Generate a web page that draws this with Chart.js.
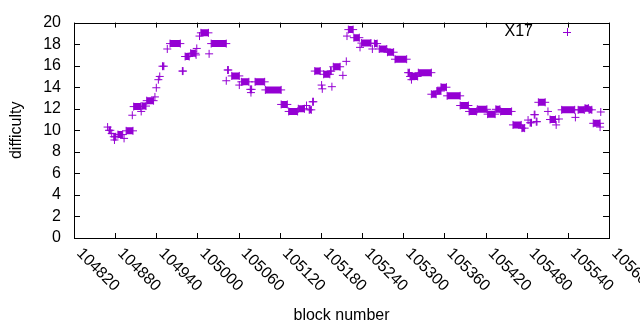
<!DOCTYPE html>
<html>
<head>
<meta charset="utf-8">
<script src="https://cdn.jsdelivr.net/npm/chart.js@4"></script>
<style>
html, body { margin: 0; padding: 0; background: #fff; }
</style>
</head>
<body>
<canvas id="canvas" width="640" height="330"></canvas>
<script>
const seriesName = 'X17';
const xTicks = [104820, 104880, 104940, 105000, 105060, 105120, 105180, 105240, 105300, 105360, 105420, 105480, 105540, 105600];
const yTicks = [0, 2, 4, 6, 8, 10, 12, 14, 16, 18, 20];

// runs of blocks sharing one difficulty (start block, end block, value)
const runStart = [104869, 104871, 104875, 104878, 104879, 104884, 104893, 104896, 104905, 104907, 104918, 104919, 104926, 104938, 104940, 104943, 104945, 104949, 104956, 104960,
  104978, 104982, 104990, 104998, 104999, 105003, 105005, 105017, 105020, 105042, 105044, 105050, 105061, 105064, 105077, 105078, 105084, 105099, 105122, 105133,
  105147, 105159, 105163, 105168, 105171, 105181, 105182, 105184, 105194, 105196, 105198, 105212, 105217, 105218, 105220, 105228, 105237, 105239, 105255, 105258,
  105265, 105277, 105288, 105307, 105310, 105312, 105322, 105341, 105349, 105355, 105364, 105383, 105396, 105408, 105423, 105435, 105442, 105460, 105473, 105482,
  105485, 105491, 105494, 105497, 105511, 105514, 105523, 105527, 105531, 105551, 105555, 105565, 105571, 105577, 105587, 105588];
const runEnd = [104869, 104873, 104875, 104881, 104879, 104891, 104893, 104906, 104905, 104917, 104918, 104925, 104936, 104938, 104940, 104943, 104945, 104951, 104956, 104975,
  104979, 104988, 104997, 104998, 104999, 105003, 105016, 105017, 105042, 105042, 105045, 105061, 105061, 105075, 105079, 105078, 105098, 105122, 105131, 105146,
  105156, 105159, 105166, 105169, 105179, 105181, 105182, 105193, 105195, 105196, 105208, 105212, 105217, 105218, 105227, 105236, 105237, 105253, 105255, 105262,
  105276, 105286, 105305, 105309, 105321, 105312, 105341, 105348, 105355, 105363, 105383, 105395, 105407, 105422, 105434, 105441, 105458, 105472, 105477, 105482,
  105487, 105492, 105495, 105507, 105511, 105522, 105523, 105527, 105550, 105551, 105564, 105570, 105575, 105587, 105587, 105588];
const runValue = [10.3, 10.0, 9.7, 9.4, 9.1, 9.6, 9.25, 9.95, 11.4, 12.2, 11.75, 12.25, 12.75, 13.1, 13.95, 14.7, 15.0, 15.95, 17.55, 18.05,
  15.5, 16.85, 17.15, 17.0, 17.6, 18.75, 19.05, 17.1, 18.05, 14.6, 15.6, 15.05, 14.2, 14.5, 13.8, 13.5, 14.5, 13.75, 12.4, 11.75,
  12.0, 12.3, 11.9, 12.65, 15.5, 14.2, 13.85, 15.2, 15.5, 14.05, 15.9, 15.1, 16.4, 18.75, 19.35, 18.6, 17.7, 18.1, 17.55, 18.05,
  17.55, 17.25, 16.6, 15.35, 15.0, 14.7, 15.35, 13.35, 13.65, 14.0, 13.2, 12.3, 11.75, 11.95, 11.5, 11.95, 11.75, 10.5, 10.2, 10.95,
  10.7, 11.45, 10.8, 12.6, 11.75, 11.0, 10.5, 11.05, 11.9, 11.2, 11.9, 12.05, 11.9, 10.65, 10.3, 11.7];

const purple = '#9400d3';
const fontFamily = '"Liberation Sans", Arial, sans-serif';
const fontSize = 16;

const points = [];
for (let i = 0; i < runStart.length; i++) {
  points.push({ x: runStart[i], y: runValue[i] });
  if (runEnd[i] !== runStart[i]) points.push({ x: runEnd[i], y: runValue[i] });
  points.push({ x: runEnd[i], y: null });
}

const gnuplotFrame = {
  id: 'gnuplotFrame',
  afterDraw(chart) {
    const ctx = chart.ctx;
    const a = chart.chartArea;
    const xs = chart.scales.x;
    const ys = chart.scales.y;
    ctx.save();
    ctx.strokeStyle = '#000';
    ctx.lineWidth = 1;
    ctx.strokeRect(Math.round(a.left) + 0.5, Math.round(a.top) + 0.5, Math.round(a.right - a.left), Math.round(a.bottom - a.top));
    ctx.beginPath();
    xTicks.forEach(v => {
      const px = Math.round(xs.getPixelForValue(v)) + 0.5;
      ctx.moveTo(px, a.bottom); ctx.lineTo(px, a.bottom - 5);
      ctx.moveTo(px, a.top); ctx.lineTo(px, a.top + 5);
    });
    yTicks.forEach(v => {
      const py = Math.round(ys.getPixelForValue(v)) + 0.5;
      ctx.moveTo(a.left, py); ctx.lineTo(a.left + 6, py);
      ctx.moveTo(a.right, py); ctx.lineTo(a.right - 6, py);
    });
    ctx.stroke();

    // rotated x tick labels
    ctx.fillStyle = '#000';
    ctx.font = fontSize + 'px ' + fontFamily;
    ctx.textAlign = 'left';
    ctx.textBaseline = 'middle';
    xTicks.forEach(v => {
      const px = xs.getPixelForValue(v);
      ctx.save();
      ctx.translate(px + 5, a.bottom + 13);
      ctx.rotate(Math.PI / 4);
      ctx.fillText(String(v), 0, 0);
      ctx.restore();
    });

    // key
    ctx.textAlign = 'right';
    ctx.fillText(chart.data.datasets[0].label, 533, 32);
    ctx.strokeStyle = purple;
    ctx.beginPath();
    ctx.moveTo(563, 32.5); ctx.lineTo(571, 32.5);
    ctx.moveTo(567.5, 28); ctx.lineTo(567.5, 36);
    ctx.stroke();
    ctx.restore();
  }
};

const ctx = document.getElementById('canvas').getContext('2d');
const myChart = new Chart(ctx, {
  type: 'line',
  data: {
    datasets: [{
      label: seriesName,
      data: points,
      borderColor: purple,
      backgroundColor: purple,
      borderWidth: 7,
      borderCapStyle: 'butt',
      spanGaps: false,
      fill: false,
      tension: 0,
      pointStyle: 'cross',
      pointRadius: 4,
      pointBorderWidth: 1,
      pointBorderColor: purple,
      pointBackgroundColor: purple
    }]
  },
  options: {
    responsive: false,
    animation: false,
    devicePixelRatio: 1,
    layout: { padding: { top: 19, right: 31, left: 0, bottom: 0 } },
    plugins: {
      legend: { display: false },
      tooltip: { enabled: false }
    },
    scales: {
      x: {
        type: 'linear',
        min: 104820,
        max: 105600,
        grid: { display: false, drawTicks: false },
        border: { display: false },
        ticks: { display: false },
        afterFit: s => { s.height = 92; },
        title: {
          display: true,
          text: 'block number',
          color: '#000',
          font: { family: fontFamily, size: fontSize },
          padding: { top: 0, bottom: 5 }
        }
      },
      y: {
        min: 0,
        max: 20,
        grid: { display: false, drawTicks: false },
        border: { display: false },
        afterBuildTicks: s => { s.ticks = yTicks.map(v => ({ value: v })); },
        ticks: {
          autoSkip: false,
          padding: 13,
          color: '#000',
          font: { family: fontFamily, size: fontSize }
        },
        afterFit: s => { s.width = 74; },
        title: {
          display: true,
          text: 'difficulty',
          color: '#000',
          font: { family: fontFamily, size: fontSize },
          padding: { top: 7, bottom: 0 }
        }
      }
    }
  },
  plugins: [gnuplotFrame]
});
</script>
</body>
</html>
